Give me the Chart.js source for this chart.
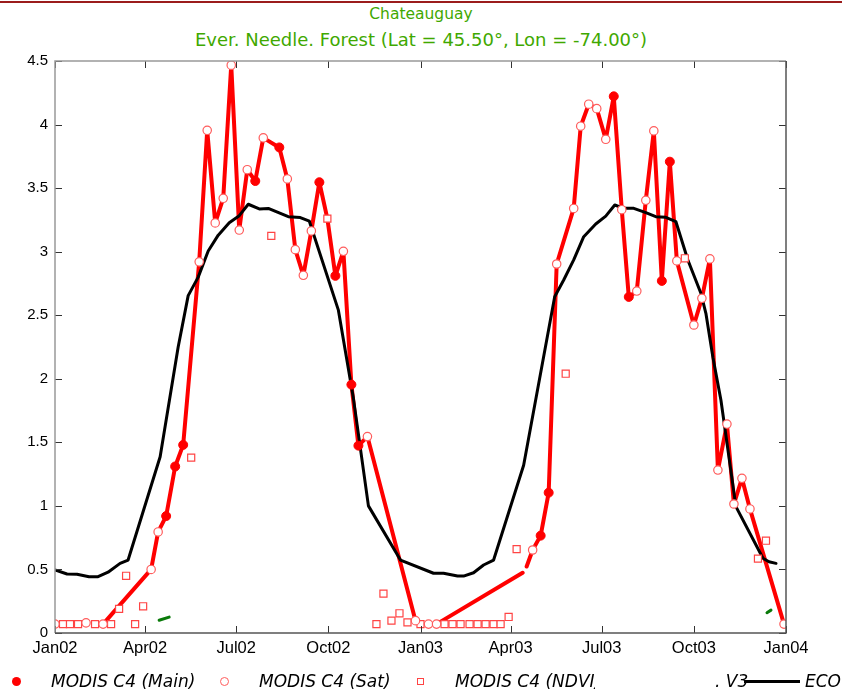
<!DOCTYPE html>
<html>
<head>
<meta charset="utf-8">
<script src="https://cdn.jsdelivr.net/npm/chart.js@4.4.0/dist/chart.umd.min.js"></script>
<style>
  body { margin: 0; background: #fff; width: 842px; height: 690px; overflow: hidden; position: relative; }
  #topline { position: absolute; left: 0; top: 1px; width: 842px; height: 2px; background: #9b1c1c; }
  .title { position: absolute; left: 0; width: 842px; text-align: center; color: #3fa800;
           font-family: "DejaVu Sans", sans-serif; white-space: nowrap; }
  #chart { position: absolute; left: 0; top: 0; }
  .lg { position: absolute; font-family: "DejaVu Sans", sans-serif; font-style: italic; font-size: 17px;
        color: #000; white-space: nowrap; line-height: 20px; top: 671px; overflow: hidden; }
  .mk { position: absolute; box-sizing: border-box; }
</style>
</head>
<body>
<div id="topline"></div>
<div class="title" style="top:5px;font-size:15.5px;">Chateauguay</div>
<div class="title" style="top:29px;font-size:18px;">Ever. Needle. Forest (Lat = 45.50°, Lon = -74.00°)</div>
<canvas id="chart" width="842" height="690"></canvas>

<div class="mk" style="left:12px;top:677px;width:9px;height:9px;border-radius:50%;background:#ff0000;"></div>
<div class="lg" style="left:51px;">MODIS C4 (Main)</div>
<div class="mk" style="left:220px;top:677px;width:9px;height:9px;border-radius:50%;border:1px solid #ff5c5c;"></div>
<div class="lg" style="left:259px;">MODIS C4 (Sat)</div>
<div class="mk" style="left:417px;top:678px;width:7px;height:7px;border:1px solid #ff4444;"></div>
<div class="lg" style="left:455px;width:140px;">MODIS C4 (NDVI)</div>
<div class="lg" style="left:715px;">. V3</div>
<div class="mk" style="left:744px;top:680px;width:56px;height:3px;background:#000;"></div>
<div class="lg" style="left:805px;">ECO</div>

<script>
// x values are days since 1 Jan 2002
const tickDays = [0, 90, 181, 273, 365, 455, 546, 638, 730];
const tickLabels = ['Jan02', 'Apr02', 'Jul02', 'Oct02', 'Jan03', 'Apr03', 'Jul03', 'Oct03', 'Jan04'];

// MODIS C4 line through main + sat retrievals (null = gap)
const lineDays = [48, 96, 103, 111, 120, 128, 144, 152, 160, 168, 176, 184, 192, 200, 208, 224, 232, 240, 248, 256,
  264, 272, 280, 288, 296, 303, 312, 360, 370, 381, 467, 469, 471, 477, 485, 493, 501, 518, 525, 533,
  541, 550, 558, 566, 573, 581, 590, 598, 606, 614, 621, 638, 646, 654, 662, 671, 678, 686, 694, 728];
const lineVals = [0.07, 0.50, 0.795, 0.92, 1.31, 1.48, 2.92, 3.955, 3.226, 3.42, 4.467, 3.17, 3.645, 3.556, 3.895, 3.82, 3.572, 3.016, 2.814, 3.163,
  3.546, 3.26, 2.81, 3.003, 1.954, 1.474, 1.545, 0.097, null, 0.07, 0.474, null, 0.523, 0.653, 0.766, 1.104, 2.903, 3.34, 3.987, 4.16,
  4.125, 3.884, 4.222, 3.33, 2.644, 2.69, 3.404, 3.95, 2.77, 3.708, 2.927, 2.423, 2.633, 2.943, 1.282, 1.644, 1.015, 1.217, 0.976, 0.07];

const mainDays = [111, 120, 128, 200, 224, 264, 280, 296, 303, 485, 493, 558, 573, 606, 614];
const mainVals = [0.92, 1.31, 1.48, 3.556, 3.82, 3.546, 2.81, 1.954, 1.474, 0.766, 1.104, 4.222, 2.644, 2.77, 3.708];

const satDays = [0, 31, 48, 96, 103, 144, 152, 160, 168, 176, 184, 192, 208, 232, 240, 248, 256, 288, 312, 360,
  373, 381, 477, 501, 518, 525, 533, 541, 550, 566, 581, 590, 598, 621, 638, 646, 654, 662, 671, 678, 686, 694, 728];
const satVals = [0.07, 0.08, 0.07, 0.50, 0.795, 2.92, 3.955, 3.226, 3.42, 4.467, 3.17, 3.645, 3.895, 3.572, 3.016, 2.814, 3.163, 3.003, 1.545, 0.097,
  0.07, 0.07, 0.653, 2.903, 3.34, 3.987, 4.16, 4.125, 3.884, 3.33, 2.69, 3.404, 3.95, 2.927, 2.423, 2.633, 2.943, 1.282, 1.644, 1.015, 1.217, 0.976, 0.07];

const ndviDays = [8, 15, 23, 40, 56, 64, 71, 80, 88, 136, 216, 272, 321, 328, 336, 344, 352, 365, 389, 397,
  405, 414, 422, 430, 438, 445, 453, 461, 510, 629, 702, 710];
const ndviVals = [0.07, 0.07, 0.07, 0.07, 0.07, 0.19, 0.45, 0.07, 0.21, 1.38, 3.124, 3.26, 0.07, 0.31, 0.097, 0.155, 0.084, 0.07, 0.07, 0.07,
  0.07, 0.07, 0.07, 0.07, 0.07, 0.07, 0.126, 0.66, 2.04, 2.948, 0.585, 0.726];

const v3Days = [104, 114, 400, 711, 715];
const v3Vals = [0.10, 0.125, null, 0.16, 0.18];

const ecoDays = [0, 12, 22, 34, 43, 53, 65, 73, 105, 123, 133, 143, 153, 163, 174, 184, 193, 204, 213, 233,
  245, 254, 283, 298, 313, 345, 378, 388, 402, 408, 418, 428, 438, 468, 499, 508, 518, 528, 540, 550,
  559, 568, 578, 590, 600, 610, 620, 632, 645, 650, 657, 665, 680, 707, 713, 720];
const ecoVals = [0.496, 0.464, 0.462, 0.443, 0.443, 0.478, 0.548, 0.574, 1.387, 2.25, 2.654, 2.80, 3.005, 3.13, 3.228, 3.283, 3.373, 3.336, 3.34, 3.275,
  3.268, 3.24, 2.54, 1.846, 1.0, 0.574, 0.47, 0.47, 0.448, 0.448, 0.474, 0.535, 0.574, 1.32, 2.646, 2.777, 2.935, 3.118, 3.218, 3.28,
  3.367, 3.341, 3.341, 3.307, 3.275, 3.27, 3.237, 2.935, 2.673, 2.515, 2.17, 1.833, 0.994, 0.588, 0.561, 0.548];

function pts(days, vals) {
  return days.map((d, i) => ({ x: d, y: vals[i] }));
}

// box round the plot with ticks pointing inward
const frame = {
  id: 'frame',
  afterDraw(chart) {
    const ctx = chart.ctx;
    const a = chart.chartArea;
    const xs = chart.scales.x, ys = chart.scales.y;
    const len = 7;
    ctx.save();
    ctx.lineWidth = 1;
    ctx.strokeStyle = '#333';
    ctx.beginPath();
    for (const d of tickDays) {
      const px = Math.round(xs.getPixelForValue(d)) + 0.5;
      ctx.moveTo(px, a.bottom); ctx.lineTo(px, a.bottom - len);
      ctx.moveTo(px, a.top); ctx.lineTo(px, a.top + len);
    }
    for (let v = 0; v <= 4.5; v += 0.5) {
      const py = Math.round(ys.getPixelForValue(v)) + 0.5;
      ctx.moveTo(a.left, py); ctx.lineTo(a.left + len, py);
      ctx.moveTo(a.right, py); ctx.lineTo(a.right - len, py);
    }
    ctx.stroke();
    ctx.lineWidth = 1.5;
    ctx.strokeStyle = '#999';
    ctx.beginPath();
    ctx.moveTo(a.left, a.bottom); ctx.lineTo(a.left, a.top); ctx.lineTo(a.right, a.top);
    ctx.stroke();
    ctx.strokeStyle = '#555';
    ctx.beginPath();
    ctx.moveTo(a.left, a.bottom); ctx.lineTo(a.right, a.bottom); ctx.lineTo(a.right, a.top);
    ctx.stroke();
    ctx.restore();
  }
};

new Chart(document.getElementById('chart'), {
  type: 'line',
  data: {
    datasets: [
      {
        label: 'MODIS C4 (Main)', data: pts(mainDays, mainVals), showLine: false, order: 1,
        pointStyle: 'circle', pointRadius: 4.5, backgroundColor: '#ff0000', borderColor: '#ff0000', borderWidth: 1
      },
      {
        label: 'MODIS C4 (Sat)', data: pts(satDays, satVals), showLine: false, order: 1,
        pointStyle: 'circle', pointRadius: 4.2, backgroundColor: '#ffffff', borderColor: '#ff5c5c', borderWidth: 1.2
      },
      {
        label: 'MODIS C4 (NDVI)', data: pts(ndviDays, ndviVals), showLine: false, order: 1,
        pointStyle: 'rect', pointRadius: 5, backgroundColor: '#ffffff', borderColor: '#ff4444', borderWidth: 1.2
      },
      {
        label: 'ECO', data: pts(ecoDays, ecoVals), order: 2,
        borderColor: '#000000', borderWidth: 3, pointRadius: 0, tension: 0,
        borderJoinStyle: 'round', borderCapStyle: 'round'
      },
      {
        label: 'V3', data: pts(v3Days, v3Vals), order: 3, spanGaps: false,
        borderColor: '#0a7a0a', borderWidth: 3, pointRadius: 0, borderCapStyle: 'round'
      },
      {
        label: 'MODIS C4', data: pts(lineDays, lineVals), order: 4, spanGaps: false,
        borderColor: '#ff0000', borderWidth: 4, pointRadius: 0, tension: 0,
        borderJoinStyle: 'round', borderCapStyle: 'round'
      }
    ]
  },
  options: {
    responsive: false,
    animation: false,
    layout: { padding: { left: 0, right: 56, top: 61, bottom: 27 } },
    plugins: { legend: { display: false }, tooltip: { enabled: false } },
    scales: {
      x: {
        type: 'linear', min: 0, max: 730,
        grid: { display: false, drawTicks: false }, border: { display: false },
        afterBuildTicks: (s) => { s.ticks = tickDays.map(v => ({ value: v })); },
        afterFit: (s) => { s.height = 30; },
        ticks: {
          padding: 6, maxRotation: 0, autoSkip: false, color: '#000',
          font: { family: 'Liberation Sans', size: 16.5 },
          callback: (v) => tickLabels[tickDays.indexOf(v)]
        }
      },
      y: {
        min: 0, max: 4.5,
        grid: { display: false, drawTicks: false }, border: { display: false },
        afterFit: (s) => { s.width = 55; },
        ticks: {
          stepSize: 0.5, padding: 7, color: '#000', font: { family: 'Liberation Sans', size: 15 },
          callback: (v) => String(v)
        }
      }
    }
  },
  plugins: [frame]
});
</script>
</body>
</html>
